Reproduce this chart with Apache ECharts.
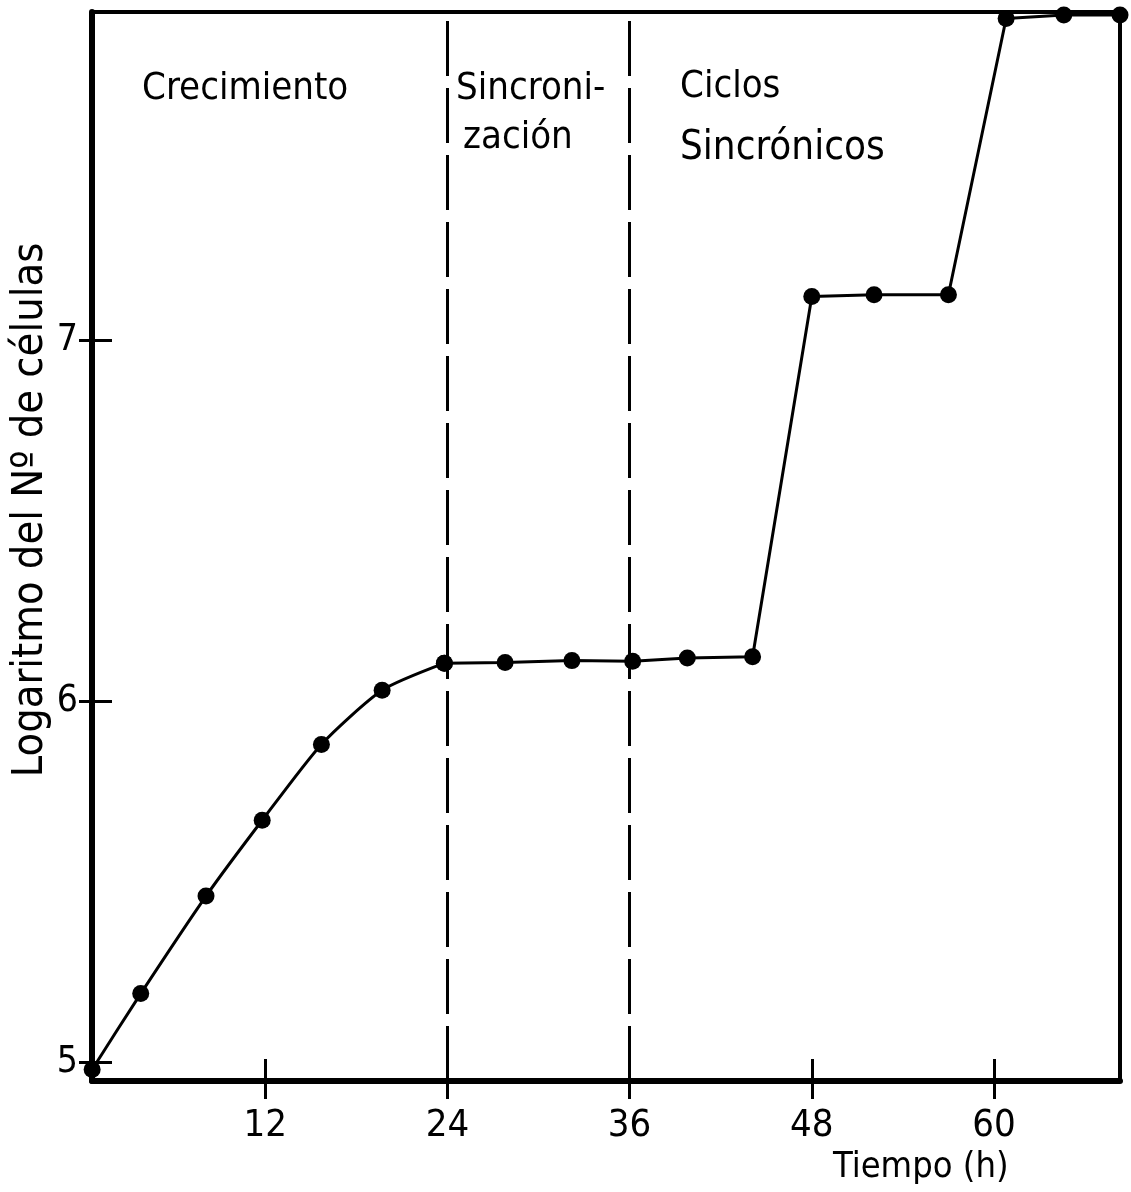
<!DOCTYPE html>
<html>
<head>
<meta charset="utf-8">
<title>Crecimiento y ciclos sincrónicos</title>
<script src="https://cdn.jsdelivr.net/npm/echarts@6/dist/echarts.min.js"></script>
<style>
  html, body { margin: 0; padding: 0; background: #fff; }
  #chart { width: 1131px; height: 1192px; }
</style>
</head>
<body>
<div id="chart"></div>
<script>
// Tiempo (h) de cada recuento
const hours = [0.6, 3.8, 8.1, 11.8, 15.7, 19.7, 23.8, 27.8, 32.2, 36.2, 39.8, 44.1, 48.0, 52.1, 57.0, 60.8, 64.6, 68.3];
// Logaritmo del número de células en cada recuento
const logCells = [4.98, 5.19, 5.46, 5.67, 5.88, 6.03, 6.105, 6.107, 6.112, 6.110, 6.119, 6.123, 7.12, 7.125, 7.125, 7.89, 7.90, 7.90];
// Índice donde termina la fase de crecimiento (tramo curvo)
const growthEnd = 6;
// Límites de fase (h)
const phaseBounds = [24, 36];
// Marcas de los ejes
const xTicks = [12, 24, 36, 48, 60];
const yTicks = [5, 6, 7];
// Rótulos de fase
const phaseLabels = ['Crecimiento', 'Sincroni-', 'zación', 'Ciclos', 'Sincrónicos'];

const X_MIN = 0.59, X_MAX = 68.3;
const Y_MIN = 4.948, Y_MAX = 7.908;

const FONT = "'DejaVu Sans Condensed', 'DejaVu Sans', sans-serif";
const NUM_FONT = "'Liberation Sans Narrow', 'DejaVu Sans Condensed', sans-serif";

const pts = hours.map((h, i) => [h, logCells[i]]);
const growth = pts.slice(0, growthEnd + 1);
const plateaus = pts.slice(growthEnd);

const chart = echarts.init(document.getElementById('chart'), null, { renderer: 'canvas' });

const baseX = {
  type: 'value', min: X_MIN, max: X_MAX, position: 'bottom',
  splitLine: { show: false }
};
const baseY = {
  type: 'value', min: Y_MIN, max: Y_MAX, position: 'left',
  splitLine: { show: false }
};

const option = {
  backgroundColor: '#fff',
  animation: false,
  grid: {
    left: 92, right: 11, top: 12, bottom: 111,
    show: true, borderColor: '#000', borderWidth: 4,
    outerBoundsMode: 'none'
  },
  xAxis: [
    Object.assign({}, baseX, {
      axisLine: { show: true, lineStyle: { color: '#000', width: 6 } },
      axisTick: { show: true, inside: true, length: 22, customValues: xTicks, lineStyle: { color: '#000', width: 3 } },
      axisLabel: { show: true, customValues: xTicks, margin: 26, color: '#000', fontSize: 38, fontFamily: NUM_FONT }
    }),
    Object.assign({}, baseX, {
      axisLine: { show: false },
      axisTick: { show: true, inside: false, length: 18, customValues: xTicks, lineStyle: { color: '#000', width: 3 } },
      axisLabel: { show: false }
    })
  ],
  yAxis: [
    Object.assign({}, baseY, {
      axisLine: { show: true, lineStyle: { color: '#000', width: 6 } },
      axisTick: { show: true, inside: true, length: 20, customValues: yTicks, lineStyle: { color: '#000', width: 3 } },
      axisLabel: { show: true, customValues: yTicks, margin: 14, color: '#000', fontSize: 37, fontFamily: NUM_FONT }
    }),
    Object.assign({}, baseY, {
      axisLine: { show: false },
      axisTick: { show: true, inside: false, length: 13, customValues: yTicks, lineStyle: { color: '#000', width: 3 } },
      axisLabel: { show: false }
    })
  ],
  series: [
    {
      name: 'crecimiento',
      type: 'line',
      xAxisIndex: 0, yAxisIndex: 0,
      data: growth,
      smooth: 0.22,
      symbol: 'circle', symbolSize: 17,
      lineStyle: { color: '#000', width: 3 },
      itemStyle: { color: '#000' },
      clip: false,
      markLine: {
        silent: true,
        symbol: ['none', 'none'],
        label: { show: false },
        lineStyle: { color: '#000', width: 3, type: [55, 12] },
        data: phaseBounds.map(v => ({ xAxis: v }))
      }
    },
    {
      name: 'sincronía',
      type: 'line',
      xAxisIndex: 0, yAxisIndex: 0,
      data: plateaus,
      smooth: false,
      symbol: 'circle', symbolSize: 17,
      lineStyle: { color: '#000', width: 3 },
      itemStyle: { color: '#000' },
      clip: false
    }
  ],
  graphic: [
    { type: 'text', left: 142, top: 70, style: { text: phaseLabels[0], font: "38px " + FONT, fill: '#000' } },
    { type: 'text', left: 456, top: 70, style: { text: phaseLabels[1], font: "38px " + FONT, fill: '#000' } },
    { type: 'text', left: 463, top: 119, style: { text: phaseLabels[2], font: "38px " + FONT, fill: '#000' } },
    { type: 'text', left: 680, top: 68, style: { text: phaseLabels[3], font: "38px " + FONT, fill: '#000' } },
    { type: 'text', left: 680, top: 129, style: { text: phaseLabels[4], font: "40px " + FONT, fill: '#000' } },
    { type: 'text', left: 833, top: 1150, style: { text: 'Tiempo (h)', font: "36px " + FONT, fill: '#000' } },
    {
      type: 'text', x: 31, y: 510, rotation: Math.PI / 2,
      style: { text: 'Logaritmo del Nº de células', font: "43px " + FONT, fill: '#000', align: 'center', verticalAlign: 'middle' }
    }
  ]
};

chart.setOption(option);
</script>
</body>
</html>
